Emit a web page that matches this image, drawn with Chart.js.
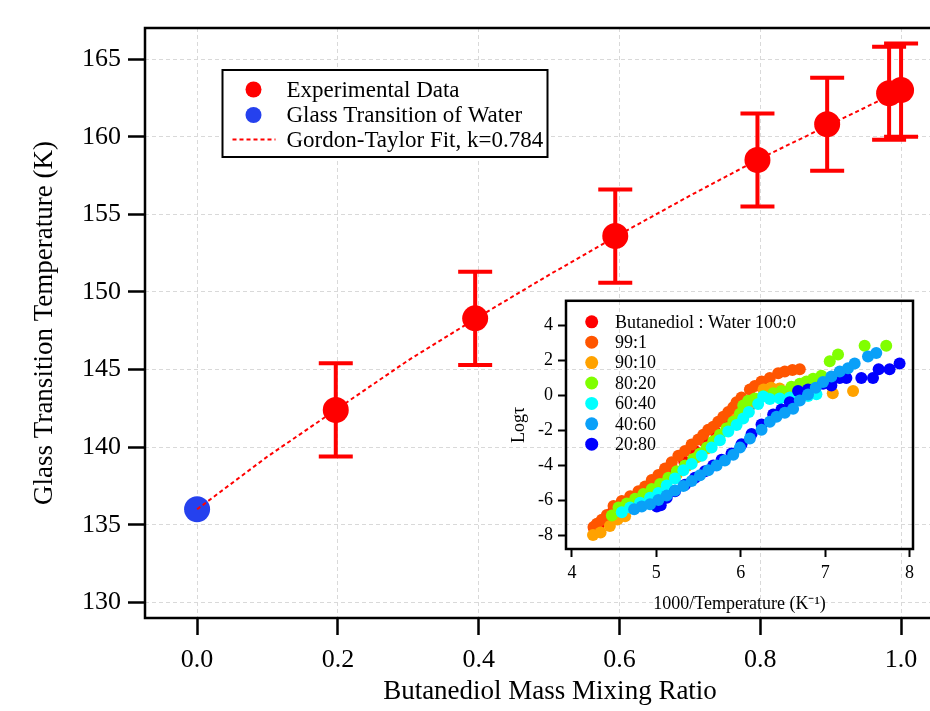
<!DOCTYPE html>
<html><head><meta charset="utf-8">
<script src="https://cdn.jsdelivr.net/npm/chart.js@4.4.1/dist/chart.umd.min.js"></script>
<style>
html,body{margin:0;padding:0;width:930px;height:711px;overflow:hidden;background:#fff;}
#main{position:absolute;left:0;top:0;width:970px;height:711px;}
#inset{position:absolute;left:490px;top:285px;width:440px;height:335px;}
</style></head><body>
<canvas id="main" width="970" height="711"></canvas>
<canvas id="inset" width="440" height="335"></canvas>
<script>
// ---- main chart data ----
const mixRatio = [0.197, 0.395, 0.594, 0.796, 0.895, 0.983, 1.0];
const tgExp    = [142.4, 148.3, 153.6, 158.5, 160.8, 162.8, 163.0];
const tgErr    = [3, 3, 3, 3, 3, 3, 3];
const waterRatio = [0];
const waterTg    = [136.0];
const fitRatio = [0, 0.1, 0.2, 0.3, 0.4, 0.5, 0.6, 0.7, 0.8, 0.9, 1.0];
const fitTg    = [136.0, 139.4, 142.5, 145.6, 148.4, 151.1, 153.7, 156.2, 158.6, 160.8, 163.0];
const xTicksMain = [0, 0.2, 0.4, 0.6, 0.8, 1.0];
const yTicksMain = [130, 135, 140, 145, 150, 155, 160, 165];

// ---- inset data (1000/T, log tau) ----
const insetLabels = ['Butanediol : Water 100:0', '99:1', '90:10', '80:20', '60:40', '40:60', '20:80'];
const s100_0_x = [4.26, 4.32, 4.40, 4.48, 4.58, 4.70, 4.82, 4.95, 5.08, 5.20, 5.33, 5.46, 5.58, 5.70, 5.82, 5.93, 6.03, 6.12];
const s100_0_y = [-7.6, -7.4, -7.1, -6.7, -6.3, -6.0, -5.7, -5.2, -4.8, -4.3, -3.8, -3.2, -2.7, -2.1, -1.5, -1.0, -0.7, -0.55];
const s99_1_x = [4.256, 4.296, 4.355, 4.414, 4.493, 4.591, 4.690, 4.788, 4.867, 4.946, 5.024, 5.103, 5.182, 5.261, 5.340, 5.418, 5.497, 5.556, 5.615, 5.674, 5.733, 5.793, 5.852, 5.911, 5.950, 6.009, 6.108, 6.167, 6.246, 6.344, 6.443, 6.522, 6.612, 6.699];
const s99_1_y = [-7.54, -7.35, -7.13, -6.85, -6.34, -6.06, -5.78, -5.50, -5.22, -4.85, -4.57, -4.20, -3.84, -3.46, -3.19, -2.82, -2.54, -2.26, -1.98, -1.80, -1.52, -1.24, -0.96, -0.69, -0.41, -0.13, 0.33, 0.52, 0.79, 0.98, 1.26, 1.35, 1.44, 1.48];
const s90_10_x = [4.25, 4.34, 4.45, 4.54, 4.63, 4.76, 4.88, 5.00, 5.12, 5.24, 5.36, 5.48, 5.60, 5.72, 5.84, 5.95, 6.05, 6.15, 6.27, 6.36, 6.46, 6.58, 7.09, 7.33];
const s90_10_y = [-8.0, -7.85, -7.48, -7.11, -6.93, -6.2, -5.85, -5.45, -5.0, -4.55, -4.05, -3.55, -3.05, -2.5, -1.9, -1.35, -0.85, -0.4, 0.32, 0.42, 0.38, 0.3, 0.11, 0.24];
const s80_20_x = [4.473, 4.552, 4.650, 4.749, 4.847, 4.946, 5.044, 5.143, 5.241, 5.340, 5.438, 5.517, 5.596, 5.674, 5.753, 5.832, 5.911, 5.990, 6.029, 6.088, 6.167, 6.266, 6.384, 6.482, 6.600, 6.699, 6.778, 6.857, 6.955, 7.054, 7.152, 7.467, 7.723];
const s80_20_y = [-6.89, -6.43, -6.19, -5.93, -5.65, -5.37, -5.08, -4.72, -4.35, -4.02, -3.65, -3.34, -3.00, -2.63, -2.26, -1.89, -1.52, -1.06, -0.59, -0.32, -0.19, -0.04, 0.11, 0.24, 0.48, 0.66, 0.79, 0.94, 1.11, 1.94, 2.33, 2.83, 2.83];
const s60_40_x = [4.591, 4.690, 4.808, 4.926, 5.024, 5.123, 5.221, 5.320, 5.418, 5.537, 5.655, 5.753, 5.852, 5.950, 6.029, 6.096, 6.206, 6.266, 6.344, 6.462, 6.581, 6.699, 6.797, 6.896];
const s60_40_y = [-6.70, -6.43, -6.15, -5.87, -5.59, -5.17, -4.76, -4.30, -3.93, -3.46, -3.00, -2.58, -2.08, -1.70, -1.33, -0.96, -0.50, -0.08, -0.22, -0.19, -0.13, -0.10, -0.04, 0.05];
const s40_60_x = [4.737, 4.827, 4.926, 5.024, 5.123, 5.221, 5.320, 5.418, 5.517, 5.615, 5.714, 5.812, 5.911, 5.990, 6.108, 6.246, 6.344, 6.423, 6.522, 6.620, 6.699, 6.797, 6.888, 6.975, 7.073, 7.172, 7.270, 7.349, 7.507, 7.605];
const s40_60_y = [-6.52, -6.37, -6.24, -6.00, -5.74, -5.46, -5.19, -4.91, -4.58, -4.30, -4.02, -3.74, -3.41, -3.00, -2.48, -1.98, -1.52, -1.24, -1.00, -0.78, -0.31, 0.04, 0.42, 0.76, 1.07, 1.35, 1.54, 1.81, 2.22, 2.41];
const s20_80_x = [5.005, 5.052, 5.123, 5.221, 5.340, 5.458, 5.576, 5.674, 5.773, 5.891, 6.009, 6.128, 6.246, 6.384, 6.482, 6.581, 6.679, 6.797, 6.975, 7.073, 7.172, 7.251, 7.428, 7.566, 7.633, 7.763, 7.881];
const s20_80_y = [-6.37, -6.30, -5.87, -5.50, -5.13, -4.72, -4.35, -4.02, -3.69, -3.33, -2.81, -2.22, -1.67, -1.11, -0.82, -0.41, 0.24, 0.33, 0.66, 0.55, 0.98, 0.98, 0.98, 0.98, 1.48, 1.48, 1.81];
const insetColors = ['#ff0000', '#ff5500', '#ffa200', '#80ff00', '#00ffff', '#0aa0f8', '#0000ff'];
// drawing layer per series (higher = drawn earlier / further back)
const insetLayer = [10, 9, 8, 7, 6, 4, 5];
const xTicksInset = [4, 5, 6, 7, 8];
const yTicksInset = [-8, -6, -4, -2, 0, 2, 4];

const SERIF = "'Liberation Serif','Times New Roman',serif";
Chart.defaults.font.family = SERIF;
Chart.defaults.color = '#000';

const pts = (xs, ys) => xs.map((x, i) => ({x: x, y: ys[i]}));

const framePlugin = {
  id: 'frame',
  afterDraw(chart, args, opts) {
    const {ctx, chartArea: a} = chart;
    ctx.save();
    ctx.strokeStyle = '#000';
    ctx.lineWidth = opts.width || 2.5;
    ctx.strokeRect(a.left, a.top, a.right - a.left, a.bottom - a.top);
    ctx.restore();
  }
};

const errorBarPlugin = {
  id: 'errorBars',
  beforeDatasetsDraw(chart) {
    const {ctx, scales: {x, y}} = chart;
    ctx.save();
    ctx.strokeStyle = '#ff0000';
    ctx.lineWidth = 4;
    mixRatio.forEach((r, i) => {
      const px = x.getPixelForValue(r);
      const yt = y.getPixelForValue(tgExp[i] + tgErr[i]);
      const yb = y.getPixelForValue(tgExp[i] - tgErr[i]);
      ctx.beginPath();
      ctx.moveTo(px, yt); ctx.lineTo(px, yb);
      ctx.moveTo(px - 17, yt); ctx.lineTo(px + 17, yt);
      ctx.moveTo(px - 17, yb); ctx.lineTo(px + 17, yb);
      ctx.stroke();
    });
    ctx.restore();
  }
};

const mainLegendPlugin = {
  id: 'mainLegend',
  afterDraw(chart) {
    const {ctx, chartArea: a} = chart;
    const bx = a.left + 77.5, by = a.top + 42, bw = 325, bh = 87;
    ctx.save();
    ctx.fillStyle = '#fff';
    ctx.fillRect(bx, by, bw, bh);
    ctx.strokeStyle = '#000';
    ctx.lineWidth = 2;
    ctx.strokeRect(bx, by, bw, bh);
    ctx.font = '23px ' + SERIF;
    ctx.textBaseline = 'middle';
    const rows = [19.5, 45, 69.5];
    chart.data.datasets.forEach((ds, i) => {
      const ry = by + rows[i];
      if (ds.showLine) {
        ctx.strokeStyle = ds.borderColor;
        ctx.lineWidth = 2;
        ctx.setLineDash([4, 3]);
        ctx.beginPath(); ctx.moveTo(bx + 10, ry); ctx.lineTo(bx + 53, ry); ctx.stroke();
        ctx.setLineDash([]);
      } else {
        ctx.fillStyle = ds.backgroundColor;
        ctx.beginPath(); ctx.arc(bx + 31, ry, 8, 0, Math.PI * 2); ctx.fill();
      }
      ctx.fillStyle = '#000';
      ctx.fillText(ds.label, bx + 64, ry + 1);
    });
    ctx.restore();
  }
};

const insetLegendPlugin = {
  id: 'insetLegend',
  afterDraw(chart) {
    const {ctx, chartArea: a} = chart;
    ctx.save();
    ctx.font = '18px ' + SERIF;
    ctx.textBaseline = 'middle';
    chart.data.datasets.forEach((ds, i) => {
      const ry = a.top + 21 + i * 20.4;
      ctx.fillStyle = ds.backgroundColor;
      ctx.beginPath(); ctx.arc(a.left + 25.7, ry, 6.5, 0, Math.PI * 2); ctx.fill();
      ctx.fillStyle = '#000';
      ctx.fillText(ds.label, a.left + 49, ry + 1);
    });
    ctx.restore();
  }
};

new Chart(document.getElementById('main'), {
  type: 'scatter',
  data: {
    datasets: [
      {label: 'Experimental Data', data: pts(mixRatio, tgExp), backgroundColor: '#ff0000', borderWidth: 0, pointRadius: 13, order: 2},
      {label: 'Glass Transition of Water', data: pts(waterRatio, waterTg), backgroundColor: '#2541ee', borderWidth: 0, pointRadius: 13, order: 2},
      {label: 'Gordon-Taylor Fit, k=0.784', data: pts(fitRatio, fitTg), showLine: true, borderColor: '#ff0000', borderWidth: 2, borderDash: [4, 3], pointRadius: 0, fill: false, order: 0}
    ]
  },
  options: {
    responsive: false, animation: false, devicePixelRatio: 1, events: [],
    layout: {padding: {left: 29, top: 28, right: 15, bottom: 3}},
    plugins: {legend: {display: false}, tooltip: {enabled: false}, frame: {width: 2.5}},
    scales: {
      x: {
        type: 'linear', min: -0.074, max: 1.0766,
        afterBuildTicks: s => { s.ticks = xTicksMain.map(v => ({value: v})); },
        afterFit: s => { s.height = 90; },
        ticks: {font: {size: 26}, padding: 10, maxRotation: 0, autoSkip: false, callback: v => Number(v).toFixed(1)},
        grid: {color: '#d9d9d9', lineWidth: 1, tickColor: '#000', tickWidth: 2.5, tickLength: 17},
        border: {display: false, dash: [4, 3]},
        title: {display: true, text: 'Butanediol Mass Mixing Ratio', font: {size: 27}, padding: {top: 0, bottom: 0}}
      },
      y: {
        type: 'linear', min: 129, max: 167,
        afterBuildTicks: s => { s.ticks = yTicksMain.map(v => ({value: v})); },
        afterFit: s => { s.width = 116; },
        ticks: {font: {size: 26}, padding: 7, autoSkip: false},
        grid: {color: '#d9d9d9', lineWidth: 1, tickColor: '#000', tickWidth: 2.5, tickLength: 17},
        border: {display: false, dash: [4, 3]},
        title: {display: true, text: 'Glass Transition Temperature (K)', font: {size: 27}, padding: {top: 0, bottom: 0}}
      }
    }
  },
  plugins: [errorBarPlugin, framePlugin, mainLegendPlugin]
});

const insetSeries = [
  pts(s100_0_x, s100_0_y), pts(s99_1_x, s99_1_y), pts(s90_10_x, s90_10_y), pts(s80_20_x, s80_20_y),
  pts(s60_40_x, s60_40_y), pts(s40_60_x, s40_60_y), pts(s20_80_x, s20_80_y)
];

new Chart(document.getElementById('inset'), {
  type: 'scatter',
  data: {
    datasets: insetSeries.map((d, i) => ({
      label: insetLabels[i], data: d, backgroundColor: insetColors[i], borderWidth: 0, pointRadius: 6, order: insetLayer[i]
    }))
  },
  options: {
    responsive: false, animation: false, devicePixelRatio: 1, events: [],
    layout: {padding: {left: 18, top: 8, right: 17, bottom: 5}},
    plugins: {legend: {display: false}, tooltip: {enabled: false}, frame: {width: 2.5}},
    scales: {
      x: {
        type: 'linear', min: 3.93, max: 8.04,
        afterBuildTicks: s => { s.ticks = xTicksInset.map(v => ({value: v})); },
        afterFit: s => { s.height = 66; },
        ticks: {font: {size: 18}, padding: 5, maxRotation: 0, autoSkip: false},
        grid: {drawOnChartArea: false, tickColor: '#000', tickWidth: 2, tickLength: 8},
        border: {display: false},
        title: {display: true, text: '1000/Temperature (K⁻¹)', font: {size: 18}, padding: {top: 0, bottom: 0}}
      },
      y: {
        type: 'linear', min: -8.8, max: 5.4,
        afterBuildTicks: s => { s.ticks = yTicksInset.map(v => ({value: v})); },
        afterFit: s => { s.width = 58; },
        ticks: {font: {size: 18}, padding: 5, autoSkip: false},
        grid: {drawOnChartArea: false, tickColor: '#000', tickWidth: 2, tickLength: 8},
        border: {display: false},
        title: {display: true, text: 'Logτ', font: {size: 18}, padding: {top: 0, bottom: 0}}
      }
    }
  },
  plugins: [framePlugin, insetLegendPlugin]
});
</script></body></html>
